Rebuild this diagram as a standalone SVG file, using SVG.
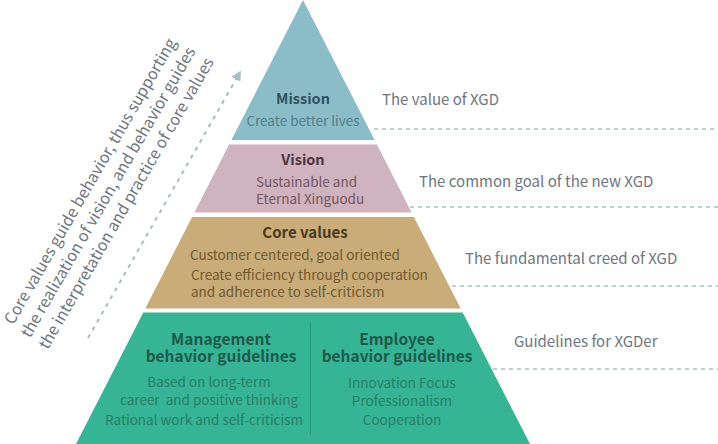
<svg xmlns="http://www.w3.org/2000/svg" width="718" height="444" viewBox="0 0 718 444">
<defs>
<style>
text{font-family:"Noto Sans CJK SC","Noto Sans","Liberation Sans",sans-serif}
.lbl{font-size:15px;fill:#6e7681}
.side{font-size:16px;fill:#6e7681}
.dash{stroke:#a8c2c4;stroke-width:1.5;stroke-dasharray:4 4;fill:none}
.t{font-weight:bold;text-anchor:middle}
</style>
<marker id="ah" viewBox="0 0 10 10" refX="6" refY="5" markerWidth="10" markerHeight="10" markerUnits="userSpaceOnUse" orient="auto">
<path d="M0,0 L10,5 L0,10 z" fill="#a8bdc0"/>
</marker>
</defs>
<rect width="718" height="444" fill="#ffffff"/>

<g id="connectors">
<line class="dash" x1="374" y1="129" x2="718" y2="129"/>
<line class="dash" x1="410" y1="207" x2="718" y2="207"/>
<line class="dash" x1="452" y1="286" x2="718" y2="286"/>
<line class="dash" x1="493" y1="369" x2="718" y2="369"/>
<line x1="88" y1="338" x2="239" y2="74" stroke="#a8bdc0" stroke-width="2" stroke-dasharray="4 5" marker-end="url(#ah)"/>
</g>

<g id="side-text" class="side" text-anchor="middle">
<text transform="translate(95,184) rotate(-60)">Core values guide behavior, thus supporting</text>
<text transform="translate(113,195) rotate(-60)">the realization of vision, and behavior guides</text>
<text transform="translate(131,206) rotate(-60)">the interpretation and practice of core values</text>
</g>

<g id="mission">
<polygon points="303,0 374.6,140 231.4,140" fill="#8bbdc9"/>
<text class="t" x="303" y="104" font-size="14.5" fill="#2f525b">Mission</text>
<text x="303" y="126" font-size="13.5" fill="#4f7f89" text-anchor="middle">Create better lives</text>
<text class="lbl" x="382" y="105">The value of XGD</text>
</g>

<g id="vision">
<polygon points="376.9,144.5 411.6,212.5 194.4,212.5 229.1,144.5" fill="#cfb3be"/>
<text class="t" x="303" y="165" font-size="14.5" fill="#4b3440">Vision</text>
<text x="256" y="187" font-size="13.5" fill="#725665">Sustainable and</text>
<text x="256" y="204" font-size="13.5" fill="#725665">Eternal Xinguodu</text>
<text class="lbl" x="419" y="187">The common goal of the new XGD</text>
</g>

<g id="core-values">
<polygon points="413.9,217 460.7,308.5 145.3,308.5 192.1,217" fill="#c9ac77"/>
<text class="t" x="305" y="238" font-size="15" fill="#4a3a1f">Core values</text>
<text x="190" y="260" font-size="13.5" fill="#6e5932">Customer centered, goal oriented</text>
<text x="191" y="280" font-size="13.5" fill="#6e5932">Create efficiency through cooperation</text>
<text x="191" y="297" font-size="13.5" fill="#6e5932">and adherence to self-criticism</text>
<text class="lbl" x="465" y="264">The fundamental creed of XGD</text>
</g>

<g id="behavior">
<polygon points="462.7,312.5 530,444 76,444 143.3,312.5" fill="#35b496"/>
<line x1="310.5" y1="322" x2="310.5" y2="435" stroke="#2b9a7e" stroke-width="1"/>
<text class="t" x="221" y="345" font-size="15.5" fill="#1e5a47">Management</text>
<text class="t" x="221" y="362" font-size="15.5" fill="#1e5a47">behavior guidelines</text>
<text x="209" y="387" font-size="13.5" fill="#2a7d63" text-anchor="middle">Based on long-term</text>
<text x="209" y="405" font-size="13.5" fill="#2a7d63" text-anchor="middle" xml:space="preserve">career  and positive thinking</text>
<text x="204" y="425" font-size="13.5" fill="#2a7d63" text-anchor="middle">Rational work and self-criticism</text>
<text class="t" x="397" y="345" font-size="15.5" fill="#1e5a47">Employee</text>
<text class="t" x="397" y="362" font-size="15.5" fill="#1e5a47">behavior guidelines</text>
<text x="402" y="388" font-size="13.5" fill="#2a7d63" text-anchor="middle">Innovation Focus</text>
<text x="402" y="406" font-size="13.5" fill="#2a7d63" text-anchor="middle">Professionalism</text>
<text x="402" y="425" font-size="13.5" fill="#2a7d63" text-anchor="middle">Cooperation</text>
<text class="lbl" x="514" y="347">Guidelines for XGDer</text>
</g>
</svg>
